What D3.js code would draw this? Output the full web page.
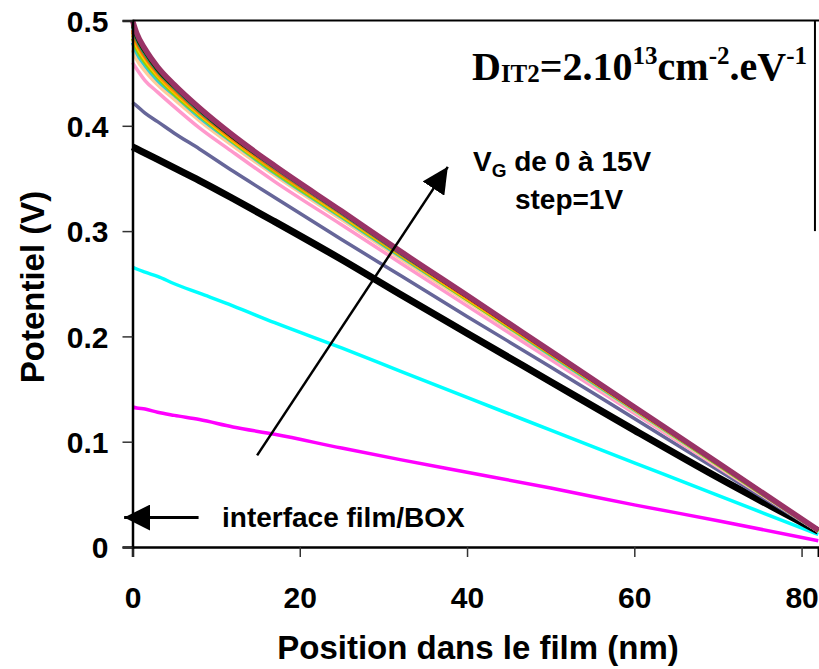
<!DOCTYPE html>
<html>
<head>
<meta charset="utf-8">
<script src="https://cdn.jsdelivr.net/npm/d3@7"></script>
<style>
  body { margin: 0; background: #fff; }
  svg { display: block; font-family: "Liberation Sans", Arial, sans-serif; font-weight: bold; }
  .tick-label { font-size: 30px; fill: #000; }
  .axis-title { font-size: 33px; fill: #000; }
  .note { font-size: 28px; fill: #000; }
  .dit { font-family: "Liberation Serif", "Times New Roman", serif; font-size: 40px; fill: #000; }
</style>
</head>
<body>
<svg id="chart"></svg>
<script>
// Position in the film (nm), shared by every curve
const positions = [0, 0.5, 1.5, 3, 5, 8, 12, 17, 25, 32, 40, 50, 60, 70, 82];

// Potential (V), one array per gate voltage
const vg0  = [0.133, 0.132, 0.131, 0.128, 0.125, 0.121, 0.114, 0.107, 0.094, 0.083, 0.071, 0.056, 0.040, 0.025, 0.006];
const vg1  = [0.266, 0.264, 0.261, 0.257, 0.250, 0.241, 0.229, 0.213, 0.189, 0.167, 0.142, 0.111, 0.080, 0.049, 0.012];
const vg2  = [0.380, 0.378, 0.374, 0.368, 0.360, 0.348, 0.331, 0.309, 0.273, 0.240, 0.203, 0.157, 0.111, 0.066, 0.015];
const vg3  = [0.422, 0.419, 0.412, 0.404, 0.393, 0.378, 0.357, 0.332, 0.292, 0.258, 0.219, 0.171, 0.122, 0.073, 0.015];
const vg4  = [0.460, 0.454, 0.443, 0.432, 0.418, 0.398, 0.375, 0.347, 0.306, 0.270, 0.229, 0.178, 0.127, 0.076, 0.015];
const vg5  = [0.472, 0.463, 0.452, 0.439, 0.425, 0.405, 0.381, 0.353, 0.311, 0.274, 0.233, 0.181, 0.129, 0.077, 0.015];
const vg6  = [0.479, 0.469, 0.457, 0.443, 0.429, 0.408, 0.384, 0.355, 0.313, 0.276, 0.235, 0.182, 0.130, 0.078, 0.015];
const vg7  = [0.483, 0.473, 0.460, 0.446, 0.430, 0.410, 0.385, 0.356, 0.314, 0.277, 0.235, 0.183, 0.131, 0.078, 0.015];
const vg8  = [0.486, 0.476, 0.463, 0.448, 0.432, 0.411, 0.386, 0.358, 0.315, 0.278, 0.236, 0.184, 0.131, 0.079, 0.016];
const vg9  = [0.489, 0.478, 0.465, 0.449, 0.433, 0.412, 0.387, 0.358, 0.316, 0.278, 0.237, 0.184, 0.131, 0.079, 0.016];
const vg10 = [0.491, 0.480, 0.466, 0.451, 0.435, 0.413, 0.388, 0.359, 0.317, 0.279, 0.237, 0.184, 0.132, 0.079, 0.016];
const vg11 = [0.494, 0.482, 0.468, 0.452, 0.436, 0.414, 0.389, 0.360, 0.317, 0.279, 0.238, 0.185, 0.132, 0.079, 0.016];
const vg12 = [0.496, 0.484, 0.470, 0.453, 0.437, 0.415, 0.389, 0.361, 0.318, 0.280, 0.238, 0.185, 0.132, 0.080, 0.016];
const vg13 = [0.497, 0.486, 0.471, 0.454, 0.438, 0.416, 0.390, 0.361, 0.318, 0.280, 0.238, 0.186, 0.133, 0.080, 0.016];
const vg14 = [0.499, 0.487, 0.472, 0.455, 0.438, 0.416, 0.391, 0.362, 0.319, 0.281, 0.239, 0.186, 0.133, 0.080, 0.016];
const vg15 = [0.500, 0.488, 0.473, 0.456, 0.439, 0.417, 0.391, 0.362, 0.319, 0.281, 0.239, 0.186, 0.133, 0.080, 0.016];

const curves = [vg0, vg1, vg2, vg3, vg4, vg5, vg6, vg7, vg8, vg9, vg10, vg11, vg12, vg13, vg14, vg15];
const curveColors = ['#ff00ff', '#00ffff', '#000000', '#666699', '#ff99cc', '#ffcc99', '#33cccc', '#99cc00',
  '#ffcc00', '#ff9900', '#ff6600', '#339966', '#003300', '#333300', '#993300', '#993366'];
const curveWidths = [3.5, 3.5, 7, 3.5, 3.5, 3.5, 3.5, 3.5, 3.5, 3.5, 3.5, 3.5, 3.5, 3.5, 3.5, 5.5];

// Tick labels
const xTicks = [0, 20, 40, 60, 80];
const yTicks = [0, 0.1, 0.2, 0.3, 0.4, 0.5];

class PotentialChart {

  constructor(_config) {
    this.config = {
      parentElement: _config.parentElement,
      containerWidth: 819,
      containerHeight: 669,
      margin: { top: 20.5, right: 0, bottom: 122, left: 132.5 }
    }
    this.initVis();
  }

  initVis() {
    let vis = this;

    vis.width = 818.3 - vis.config.margin.left;
    vis.height = vis.config.containerHeight - vis.config.margin.top - vis.config.margin.bottom;

    vis.xScale = d3.scaleLinear()
      .domain([0, 82])
      .range([0, vis.width]);

    vis.yScale = d3.scaleLinear()
      .domain([0, 0.5])
      .range([vis.height, 0]);

    vis.xAxis = d3.axisBottom(vis.xScale)
      .tickValues(xTicks)
      .tickSize(10)
      .tickPadding(30)
      .tickFormat(d3.format('d'));

    vis.yAxis = d3.axisLeft(vis.yScale)
      .tickValues(yTicks)
      .tickSize(10)
      .tickPadding(14)
      .tickFormat(d => d === 0 ? '0' : d3.format('.1f')(d));

    vis.svg = d3.select(vis.config.parentElement)
      .attr('width', vis.config.containerWidth)
      .attr('height', vis.config.containerHeight);

    vis.chartArea = vis.svg.append('g')
      .attr('transform', `translate(${vis.config.margin.left},${vis.config.margin.top})`);

    vis.renderVis();
  }

  renderVis() {
    let vis = this;

    const line = d3.line()
      .x((d, i) => vis.xScale(positions[i]))
      .y(d => vis.yScale(d))
      .curve(d3.curveMonotoneX);

    // Curves, VG = 0 V first so the high ones sit on top
    vis.chartArea.selectAll('.curve')
      .data(curves)
      .join('path')
      .attr('class', 'curve')
      .attr('fill', 'none')
      .attr('stroke', (d, i) => curveColors[i])
      .attr('stroke-width', (d, i) => curveWidths[i])
      .attr('stroke-linejoin', 'round')
      .attr('d', line);

    // Frame: top line and the visible upper part of the right edge
    vis.chartArea.append('line')
      .attr('x1', 0).attr('x2', vis.width + 1)
      .attr('y1', 0).attr('y2', 0)
      .attr('stroke', '#000')
      .attr('stroke-width', 2);
    vis.chartArea.append('line')
      .attr('x1', vis.xScale(81.6)).attr('x2', vis.xScale(81.6))
      .attr('y1', 0).attr('y2', vis.yScale(0.3))
      .attr('stroke', '#000')
      .attr('stroke-width', 2);

    // Axes
    const xAxisG = vis.chartArea.append('g')
      .attr('transform', `translate(0,${vis.height})`)
      .call(vis.xAxis);
    const yAxisG = vis.chartArea.append('g')
      .call(vis.yAxis);

    [xAxisG, yAxisG].forEach(g => {
      g.attr('font-size', null).attr('font-family', null);
      g.select('.domain').attr('stroke', '#000').attr('stroke-width', 2.5);
      g.selectAll('.tick line').attr('stroke', '#333').attr('stroke-width', 1.5);
      g.selectAll('.tick text').attr('class', 'tick-label');
    });
    xAxisG.selectAll('.tick text').attr('dy', '0.71em');
    yAxisG.selectAll('.tick text').attr('dy', '0.36em');

    // Axis titles
    vis.svg.append('text')
      .attr('class', 'axis-title')
      .attr('x', 478)
      .attr('y', 659)
      .attr('text-anchor', 'middle')
      .text('Position dans le film (nm)');

    vis.svg.append('text')
      .attr('class', 'axis-title')
      .attr('transform', 'translate(44,287) rotate(-90)')
      .attr('text-anchor', 'middle')
      .text('Potentiel (V)');

    // Arrow heads
    const defs = vis.svg.append('defs');
    defs.append('marker')
      .attr('id', 'head')
      .attr('viewBox', '0 0 10 10')
      .attr('refX', 10).attr('refY', 5)
      .attr('markerUnits', 'userSpaceOnUse')
      .attr('markerWidth', 26).attr('markerHeight', 26)
      .attr('orient', 'auto')
      .append('path')
      .attr('d', 'M0,0 L10,5 L0,10 z')
      .attr('fill', '#000');

    // Gate voltage arrow
    vis.chartArea.append('line')
      .attr('x1', vis.xScale(14.9)).attr('y1', vis.yScale(0.087))
      .attr('x2', vis.xScale(37.7)).attr('y2', vis.yScale(0.361))
      .attr('stroke', '#000').attr('stroke-width', 2.5)
      .attr('marker-end', 'url(#head)');

    // Interface arrow
    vis.chartArea.append('line')
      .attr('x1', vis.xScale(7.9)).attr('y1', vis.yScale(0.028))
      .attr('x2', vis.xScale(-1.0)).attr('y2', vis.yScale(0.028))
      .attr('stroke', '#000').attr('stroke-width', 3)
      .attr('marker-end', 'url(#head)');

    vis.svg.append('text')
      .attr('class', 'note')
      .attr('x', 222).attr('y', 527)
      .text('interface film/BOX');

    const vgText = vis.svg.append('text')
      .attr('class', 'note')
      .attr('x', 473).attr('y', 171);
    vgText.append('tspan').text('V');
    vgText.append('tspan').attr('font-size', 19).attr('dy', 6).text('G');
    vgText.append('tspan').attr('dy', -6).text(' de 0 à 15V');

    vis.svg.append('text')
      .attr('class', 'note')
      .attr('x', 569).attr('y', 209)
      .attr('text-anchor', 'middle')
      .text('step=1V');

    // D_IT2 label
    const dit = vis.svg.append('text')
      .attr('class', 'dit')
      .attr('x', 472).attr('y', 80);
    dit.append('tspan').text('D');
    dit.append('tspan').attr('font-size', 25).attr('dy', 2).text('IT2');
    dit.append('tspan').attr('dy', -2).text('=2.10');
    dit.append('tspan').attr('font-size', 25).attr('dy', -16).text('13');
    dit.append('tspan').attr('dy', 16).text('cm');
    dit.append('tspan').attr('font-size', 25).attr('dy', -16).text('-2');
    dit.append('tspan').attr('dy', 16).text('.eV');
    dit.append('tspan').attr('font-size', 25).attr('dy', -16).text('-1');
  }
}

new PotentialChart({ parentElement: '#chart' });
</script>
</body>
</html>
